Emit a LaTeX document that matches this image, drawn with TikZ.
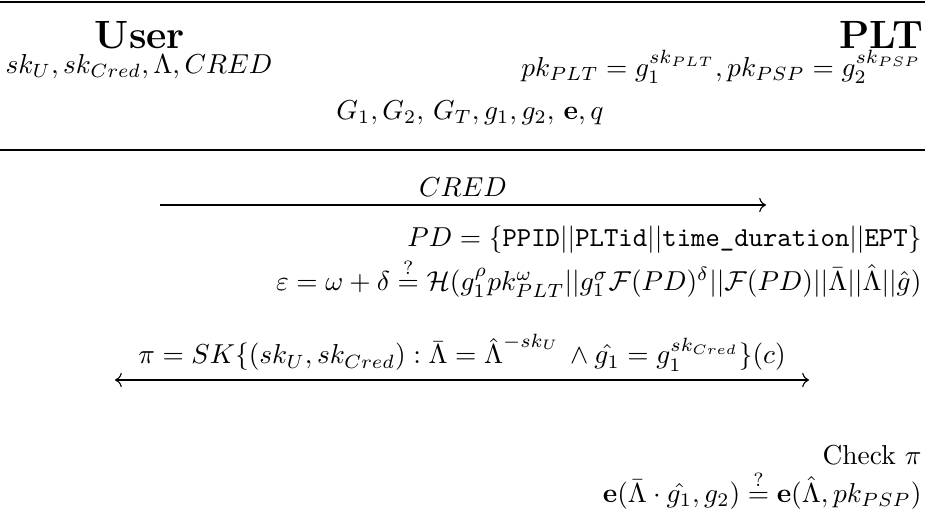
\documentclass[tikz,border=0pt]{standalone}
\usepackage{amsmath}
\usepackage{amssymb}
\usetikzlibrary{
  arrows.meta,
  positioning,
  calc
}
\tikzset{
  party/.style={font=\Large\bfseries, inner sep=0pt},
  store/.style={inner sep=0pt},
  calcline/.style={inner sep=0pt, anchor=east},
  hrule/.style={line width=0.5pt},
  msg/.style={->, line width=0.4pt},
  twoway/.style={<->, line width=0.4pt},
  msglabel/.style={inner sep=0pt, above=3pt}
}
\begin{document}
\begin{tikzpicture}[x=0.365pt, y=-0.365pt]
  \useasboundingbox (0,0) rectangle (925,525);
  % header
  \coordinate (r1l) at (0,2);
  \coordinate (r1r) at (925,2);
  \draw[hrule] (r1l) -- (r1r);
  \node[party] (user) at (140,35) {User};
  \node[party, anchor=east] (plt) at (924,35) {PLT};
  \node[store, anchor=west] (userkeys) at (5,67) {$sk_U, sk_{Cred}, \Lambda, CRED$};
  \node[calcline] (pltkeys) at (922,67) {$pk_{PLT}=g_1^{sk_{PLT}}, pk_{PSP}=g_2^{sk_{PSP}}$};
  \node[store] (params) at (470,113) {$G_1, G_2,\, G_T, g_1, g_2,\, \mathbf{e}, q$};
  \coordinate (r2l) at (0,150);
  \coordinate (r2r) at (925,150);
  \draw[hrule] (r2l) -- (r2r);
  % first message
  \coordinate (m1s) at (160,205);
  \coordinate (m1e) at (766,205);
  \draw[msg] (m1s) -- (m1e);
  \node[msglabel] (m1) at ($(m1s)!0.5!(m1e)$) {$CRED$};
  % PLT side
  \node[calcline] (pd) at (922,240) {$PD=\{\texttt{PPID}||\texttt{PLTid}||\texttt{time\_duration}||\texttt{EPT}\}$};
  \node[calcline] (eps) at (922,278) {$\varepsilon=\omega+\delta\stackrel{?}{=}\mathcal{H}(g_1^{\rho}pk_{PLT}^{\omega}||g_1^{\sigma}\mathcal{F}(PD)^{\delta}||\mathcal{F}(PD)||\bar{\Lambda}||\hat{\Lambda}||\hat{g})$};
  % second message
  \coordinate (m2s) at (115,380);
  \coordinate (m2e) at (809,380);
  \draw[twoway] (m2s) -- (m2e);
  \node[msglabel] (m2) at ($(m2s)!0.5!(m2e)$) {$\pi=SK\{(sk_U, sk_{Cred}):\bar{\Lambda}=\hat{\Lambda}^{\raisebox{2.5pt}{$\scriptstyle -sk_U$}}\,\wedge\hat{g_1}=g_1^{sk_{Cred}}\}(c)$};
  % check
  \node[calcline] (chk) at (922,455) {Check $\pi$};
  \node[calcline] (pair) at (922,490) {$\mathbf{e}(\bar{\Lambda}\cdot\hat{g_1}, g_2)\stackrel{?}{=}\mathbf{e}(\hat{\Lambda}, pk_{PSP})$};
\end{tikzpicture}
\end{document}
